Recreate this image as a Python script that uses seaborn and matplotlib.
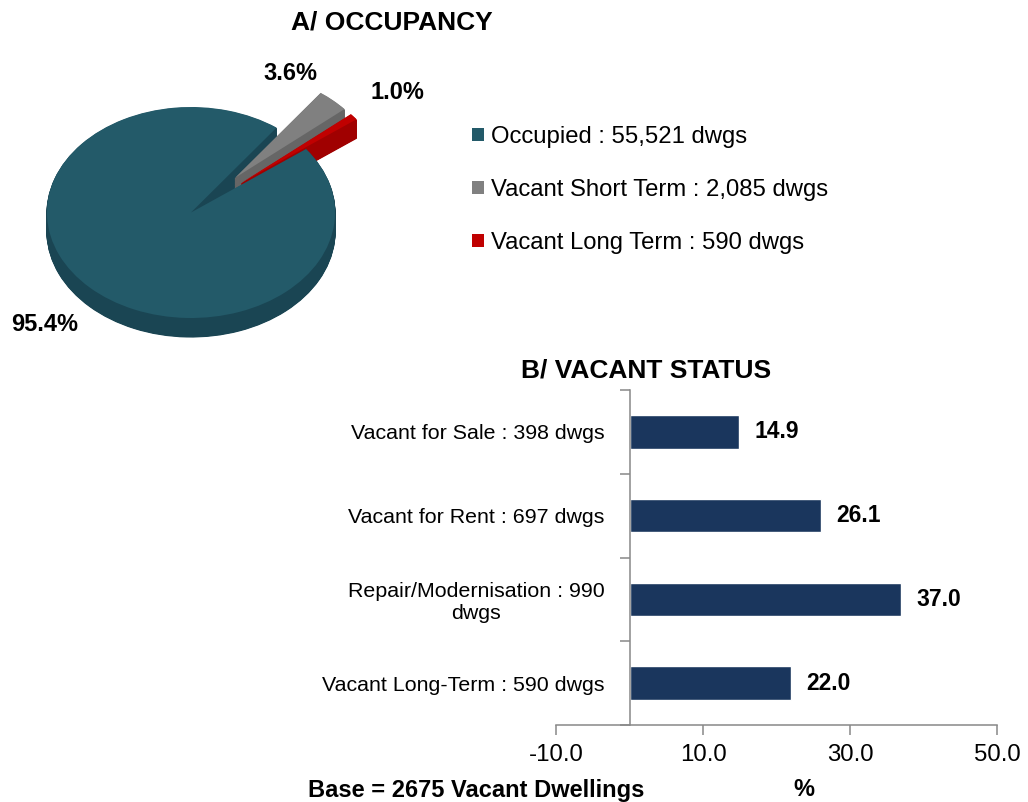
import numpy as np
import pandas as pd
import matplotlib.pyplot as plt
import seaborn as sns

# ---- data ----
occ_labels = ["Occupied : 55,521 dwgs",
              "Vacant Short Term : 2,085 dwgs",
              "Vacant Long Term : 590 dwgs"]
occ_pct = [95.4, 3.6, 1.0]
occ_colors = ["#235a69", "#808080", "#c00000"]
occ_side = ["#1a4553", "#666666", "#a00000"]
occ_explode = [0, 0.45, 0.45]

vac_labels = ["Vacant for Sale : 398 dwgs",
              "Vacant for Rent : 697 dwgs",
              "Repair/Modernisation : 990\ndwgs",
              "Vacant Long-Term : 590 dwgs"]
vac_pct = [14.9, 26.1, 37.0, 22.0]
x_ticks = [-10, 10, 30, 50]

sns.set_style("white")
plt.rcParams['font.family'] = ['Liberation Sans', 'DejaVu Sans']
plt.rcParams['text.color'] = 'black'
plt.rcParams['axes.labelcolor'] = 'black'
plt.rcParams['xtick.color'] = 'black'
plt.rcParams['ytick.color'] = 'black'

W, H = 1028, 802
fig = plt.figure(figsize=(W / 100, H / 100), dpi=100)

# ---- A/ pie with fake 3d depth ----
ax1 = fig.add_axes([0, 1 - 360 / H, 400 / W, 320 / H])
depth = 0.18
for off in np.linspace(-depth, -0.01, 30):
    ax1.pie(occ_pct, colors=occ_side, explode=occ_explode, startangle=37,
            counterclock=False, center=(0, off),
            wedgeprops=dict(linewidth=0.8, edgecolor=None, antialiased=True))
    for w, c in zip(ax1.patches[-3:], occ_side):
        w.set_edgecolor(c)
wedges, _ = ax1.pie(occ_pct, colors=occ_colors, explode=occ_explode, startangle=37,
                    counterclock=False, wedgeprops=dict(linewidth=0))
ax1.set_aspect('auto')
ax1.set_xlim(-1.326, 1.451)
ax1.set_ylim(-1.398, 1.635)
ax1.axis('off')

# percent labels
lab_pos = [(-1.014, -1.066), (0.69, 1.322), (1.431, 1.142)]
for p, (lx, ly) in zip(occ_pct, lab_pos):
    ax1.text(lx, ly, f"{p:.1f}%", ha='center', va='center',
             fontsize=17, fontweight='bold')

fig.text(392 / W, 1 - 22 / H, "A/ OCCUPANCY", ha='center', va='center',
         fontsize=19, fontweight='bold')

fig.legend(wedges, occ_labels, loc='center left',
           bbox_to_anchor=(472 / W, 1 - 190 / H), frameon=False,
           fontsize=17.2, handlelength=0.5, handleheight=0.5,
           handletextpad=0.3, labelspacing=1.3, borderpad=0, borderaxespad=0)

# ---- B/ bar chart ----
ax2 = fig.add_axes([556 / W, 1 - 725 / H, 441 / W, 335 / H])
df = pd.DataFrame({'status': vac_labels, 'pct': vac_pct})
sns.barplot(data=df, y='status', x='pct', orient='h', color='#1a365d',
            width=0.4, saturation=1, ax=ax2)
for c in ax2.containers:
    ax2.bar_label(c, fmt='%.1f', padding=11, fontsize=16.5, fontweight='bold')

ax2.set_xlim(-10, 50)
ax2.set_ylim(3.5, -0.5)
ax2.set_xticks(x_ticks)
ax2.set_xticklabels([f"{v:.1f}" for v in x_ticks])
ax2.set_yticks([-0.5, 0.5, 1.5, 2.5, 3.5], minor=True)

gray = '#888888'
for s in ['top', 'right']:
    ax2.spines[s].set_visible(False)
ax2.spines['left'].set_position(('data', 0))
for s in ['left', 'bottom']:
    ax2.spines[s].set_color(gray)
    ax2.spines[s].set_linewidth(1.1)

ax2.tick_params(axis='y', which='major', length=0, pad=18, labelsize=15.4)
ax2.tick_params(axis='y', which='minor', length=7, width=1.1, color=gray,
                direction='out', left=True)
ax2.tick_params(axis='x', length=7, width=1.1, color=gray, direction='out',
                pad=7, labelsize=17.3, bottom=True)
for t in ax2.get_yticklabels():
    t.set_multialignment('center')

ax2.set_ylabel('')
ax2.set_xlabel('%', fontsize=17, fontweight='bold', va='center')
ax2.xaxis.set_label_coords((804 - 556) / 441, (725 - 790) / 335)

fig.text(646 / W, 1 - 371 / H, "B/ VACANT STATUS", ha='center', va='center',
         fontsize=19, fontweight='bold')
fig.text(476 / W, 1 - 790 / H, "Base = 2675 Vacant Dwellings", ha='center',
         va='center', fontsize=17, fontweight='bold')

fig.savefig('out.png', dpi=100)
